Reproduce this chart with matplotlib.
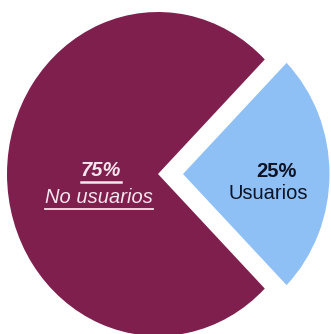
import matplotlib
matplotlib.use("Agg")
import matplotlib.pyplot as plt
from matplotlib.lines import Line2D

# Data
labels = ["No usuarios", "Usuarios"]
shares = [75, 25]
colors = ["#7F1F4E", "#8EC0F6"]

plt.rcParams["font.family"] = ["Liberation Sans", "DejaVu Sans"]

W, H = 331, 334
fig = plt.figure(figsize=(W / 100, H / 100), dpi=100)
ax = fig.add_axes([0, 0, 1, 1])

# pie geometry in pixels (picture is slightly stretched vertically)
cx, cy = 158, 174
rx, ry = 151, 162

wedges, _ = ax.pie(shares, colors=colors, startangle=45, counterclock=True,
                   explode=[0, 25 / rx], radius=1, center=(0, 0),
                   wedgeprops=dict(linewidth=0))
wedges[1].set_radius(0.97)
ax.set_aspect("auto")
ax.set_xlim(-cx / rx, (W - cx) / rx)
ax.set_ylim(-(H - cy) / ry, cy / ry)
ax.axis("off")


def px(x, y):
    return ((x - cx) / rx, (cy - y) / ry)


light = "#F5E6EE"
dark = "#0E1426"
t1 = ax.text(*px(101, 170), "%d%%" % shares[0], color=light, fontsize=14.5,
             fontstyle="italic", fontweight="bold", ha="center", va="center")
t2 = ax.text(*px(99, 197), labels[0], color=light, fontsize=14.5,
             fontstyle="italic", ha="center", va="center")
ax.text(*px(276, 171), "%d%%" % shares[1], color=dark, fontsize=14.5,
        fontweight="bold", ha="center", va="center")
ax.text(*px(268, 193), labels[1], color=dark, fontsize=14.5,
        ha="center", va="center")

# underline the "No usuarios" labels
fig.canvas.draw()
r = fig.canvas.get_renderer()
for t, lw in [(t1, 1.8), (t2, 1.3)]:
    bb = t.get_window_extent(r)
    y = bb.y0 - 2
    fig.add_artist(Line2D([bb.x0 / W, bb.x1 / W], [y / H, y / H],
                          transform=fig.transFigure, color=light, lw=lw))

fig.savefig("out.png", dpi=100)
